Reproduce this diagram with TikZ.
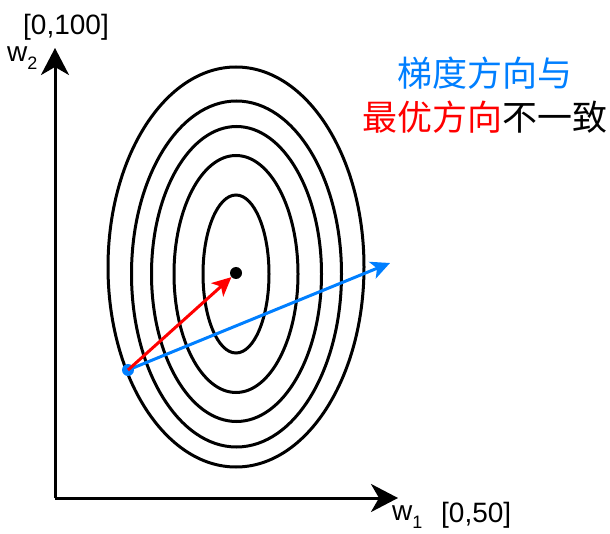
\documentclass[tikz,border=0pt]{standalone}
\usepackage{fontspec}
\setmainfont{Liberation Sans}
\newfontfamily\cjk{Noto Sans CJK SC}
\usetikzlibrary{arrows.meta}
\definecolor{gradblue}{HTML}{007FFF}
\tikzset{
  axis/.style={line width=3pt, -{Stealth[length=27pt,width=28pt,inset=8pt]}},
  contour/.style={line width=3pt},
  vec/.style={line width=3pt, -{Stealth[length=19pt,width=18pt,inset=5pt]}},
  lbl/.style={font=\fontsize{28}{34}\selectfont, inner sep=0pt},
  dot/.style={circle, inner sep=0pt, minimum size=12pt},
}
\newcommand{\lowsub}[1]{\raisebox{-8pt}{\fontsize{18}{18}\selectfont #1}}
\begin{document}
\begin{tikzpicture}[x=1pt,y=-1pt]
    \useasboundingbox (0,0) rectangle (610,534);

    \coordinate (o) at (55,498);
    \coordinate (xend) at (398,498);
    \coordinate (yend) at (55,48);
    \draw [axis] (o) -- (xend);
    \draw [axis] (o) -- (yend);

    \draw [contour] (236,267) ellipse [x radius=128pt, y radius=200pt];
    \draw [contour] (236.5,274) ellipse [x radius=105pt, y radius=173pt];
    \draw [contour] (236.5,274) ellipse [x radius=85pt, y radius=147.5pt];
    \draw [contour] (236,274) ellipse [x radius=62pt, y radius=118.5pt];
    \draw [contour] (236,274) ellipse [x radius=33pt, y radius=79pt];

    \node [dot, fill=black] (opt) at (236,273) {};
    \node [dot, fill=gradblue] (start) at (128,370) {};
    \coordinate (grad) at (390,263);

    \draw [vec, gradblue] (start.center) -- (grad);
    \draw [vec, red] (start.center) -- (opt);

    \node [lbl] (yrange) at (66,27) {[0,100]};
    \node [lbl, anchor=base west] (w2) at (7,62) {w\lowsub{2}};
    \node [lbl, anchor=base west] (w1) at (392,520) {w\lowsub{1}};
    \node [lbl, anchor=base west] (xrange) at (441,522) {[0,50]};

    \node [font=\cjk\fontsize{35}{44}\selectfont, align=center, inner sep=0pt] (note) at (485,95)
        {\textcolor{gradblue}{梯度方向与}\\\textcolor{red}{最优方向}不一致};
\end{tikzpicture}
\end{document}
